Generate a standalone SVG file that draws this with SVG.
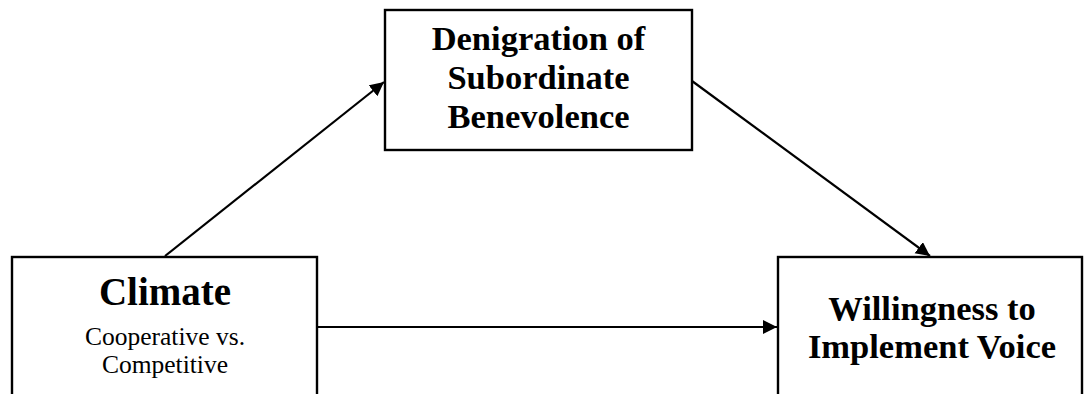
<svg xmlns="http://www.w3.org/2000/svg" width="1085" height="394" viewBox="0 0 1085 394">
  <style>
    .box { fill: #ffffff; stroke: #000000; stroke-width: 2.4; }
    .edge { fill: none; stroke: #000000; stroke-width: 2.2; }
    .title { font-family: "Liberation Serif", "Times New Roman", serif; font-weight: bold; fill: #000000; text-anchor: middle; }
    .sub { font-family: "Liberation Serif", "Times New Roman", serif; font-size: 25.5px; fill: #000000; text-anchor: middle; }
  </style>
  <defs>
    <marker id="arrow" markerWidth="15" markerHeight="15" refX="14" refY="7" orient="auto" markerUnits="userSpaceOnUse">
      <path d="M0,0 L14,7 L0,14 Z" fill="#000000"/>
    </marker>
  </defs>
  <rect width="1085" height="394" fill="#ffffff"/>

  <g id="climate">
    <rect class="box" x="12" y="257" width="305" height="150"/>
    <text class="title" x="165" y="305" font-size="39">Climate</text>
    <text class="sub" x="165" y="345">Cooperative vs.</text>
    <text class="sub" x="165" y="373">Competitive</text>
  </g>

  <g id="denigration">
    <rect class="box" x="385" y="10" width="307" height="140"/>
    <text class="title" x="538.5" y="50" font-size="34.5">Denigration of</text>
    <text class="title" x="538.5" y="89" font-size="34.5">Subordinate</text>
    <text class="title" x="538.5" y="128" font-size="34.5">Benevolence</text>
  </g>

  <g id="willingness">
    <rect class="box" x="778" y="257" width="304" height="150"/>
    <text class="title" x="932" y="320" font-size="34.5">Willingness to</text>
    <text class="title" x="932" y="358" font-size="34.5">Implement Voice</text>
  </g>

  <g id="connectors">
    <line class="edge" x1="165" y1="256" x2="384" y2="82" marker-end="url(#arrow)"/>
    <line class="edge" x1="692" y1="81" x2="930" y2="256" marker-end="url(#arrow)"/>
    <line class="edge" x1="317" y1="327" x2="777" y2="327" marker-end="url(#arrow)"/>
  </g>
</svg>
